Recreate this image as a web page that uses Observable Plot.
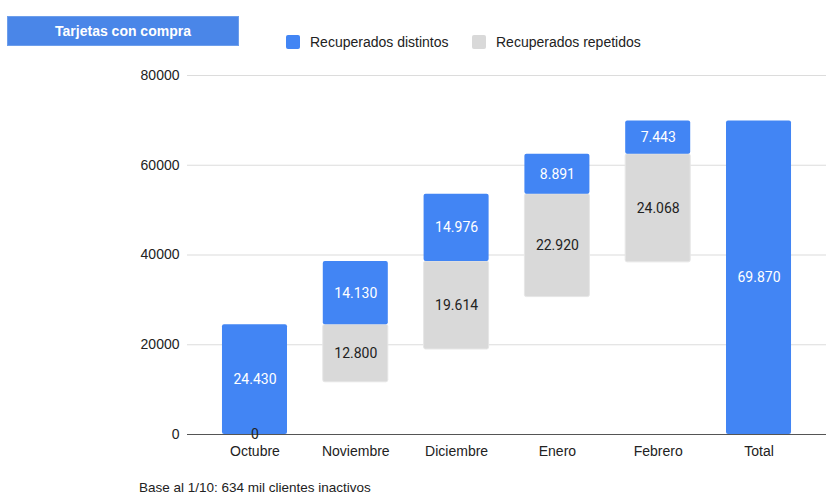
<!DOCTYPE html>
<html>
<head>
<meta charset="utf-8">
<script src="https://cdn.jsdelivr.net/npm/d3@7"></script>
<script src="https://cdn.jsdelivr.net/npm/@observablehq/plot@0.6"></script>
<style>
  html, body { margin: 0; padding: 0; background: #fff; }
  #wrap { position: relative; width: 837px; height: 496px; font-family: "Liberation Sans", Arial, sans-serif; overflow: hidden; }
  #chart { position: absolute; left: 0; top: 0; }
  .title { position: absolute; left: 7px; top: 16px; width: 232px; height: 30px; background: #4a86e8; border: 1px solid #6d9eeb; box-sizing: border-box;
           color: #fff; font-weight: bold; font-size: 14px; line-height: 28px; text-align: center; }
  .leg { position: absolute; top: 34px; font-size: 14px; color: #222; display: flex; align-items: center; height: 16px; }
  .sw { width: 14px; height: 14px; border-radius: 2px; margin-right: 10px; }
  .foot { position: absolute; left: 139px; top: 480px; font-size: 13.5px; color: #222; }
</style>
</head>
<body>
<div id="wrap">
  <div id="chart"></div>
  <div class="title">Tarjetas con compra</div>
  <div class="leg" style="left:286px"><div class="sw" style="background:#4285f4"></div>Recuperados distintos</div>
  <div class="leg" style="left:472px"><div class="sw" style="background:#d9d9d9"></div>Recuperados repetidos</div>
  <div class="foot">Base al 1/10: 634 mil clientes inactivos</div>
</div>
<script>
const months = ["Octubre", "Noviembre", "Diciembre", "Enero", "Febrero"];
const totalLabel = "Total";
const distintos = [24430, 14130, 14976, 8891, 7443];
const repetidos = [0, 12800, 19614, 22920, 24068];
const yTicks = [0, 20000, 40000, 60000, 80000];

const esFmt = d3.formatLocale({decimal: ",", thousands: ".", grouping: [3], currency: ["", "€"]}).format(",");

const rows = [];
let cum = 0;
months.forEach((m, i) => {
  rows.push({month: m, series: "rep", y1: cum - repetidos[i], y2: cum, value: repetidos[i]});
  rows.push({month: m, series: "dist", y1: cum, y2: cum + distintos[i], value: distintos[i]});
  cum += distintos[i];
});
rows.push({month: totalLabel, series: "dist", y1: 0, y2: cum, value: cum});

const rep = rows.filter(d => d.series === "rep");
const dist = rows.filter(d => d.series === "dist");

const chart = Plot.plot({
  width: 837,
  height: 496,
  marginLeft: 187,
  marginRight: 11,
  marginTop: 75,
  marginBottom: 62,
  style: {fontFamily: "'Liberation Sans', Arial, sans-serif", fontSize: "14px", color: "#222", background: "transparent"},
  x: {domain: [...months, totalLabel], paddingInner: 0.355, paddingOuter: 0.347, round: false, label: null, tickSize: 0, tickPadding: 12},
  y: {domain: [0, 80000], ticks: yTicks, tickFormat: d => String(d), label: null, tickSize: 0, tickPadding: 8},
  marks: [
    Plot.gridY(yTicks, {stroke: "#dcdcdc", strokeOpacity: 1, strokeWidth: 1.2}),
    Plot.barY(rep, {x: "month", y1: "y1", y2: "y2", fill: "#d9d9d9", stroke: "#e6e6e6", strokeWidth: 1, rx: 2}),
    Plot.barY(dist, {x: "month", y1: "y1", y2: "y2", fill: "#4285f4", rx: 2}),
    Plot.ruleY([0], {stroke: "#555", strokeWidth: 1.2}),
    Plot.text(rep, {x: "month", y: d => (d.y1 + d.y2) / 2, text: d => esFmt(d.value), fill: "#222", fontSize: 14, fontFamily: "Roboto, sans-serif"}),
    Plot.text(dist, {x: "month", y: d => (d.y1 + d.y2) / 2, text: d => esFmt(d.value), fill: "#fff", fontSize: 14, fontFamily: "Roboto, sans-serif"})
  ]
});
document.getElementById("chart").appendChild(chart);
</script>
</body>
</html>
